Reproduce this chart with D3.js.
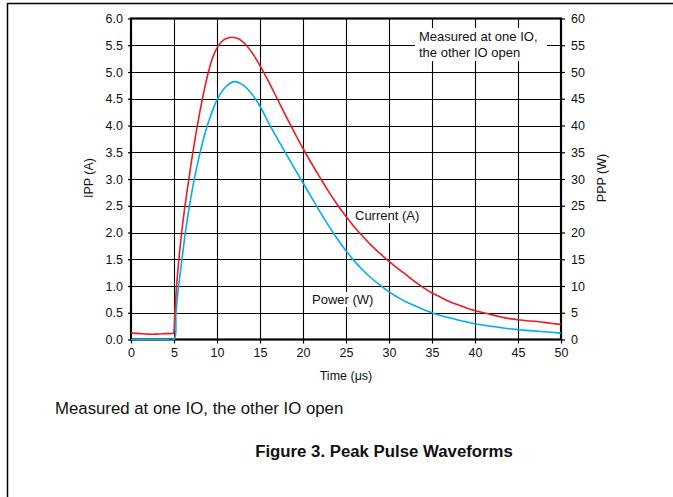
<!DOCTYPE html>
<html><head><meta charset="utf-8">
<script src="https://cdn.jsdelivr.net/npm/d3@7/dist/d3.min.js"></script>
<style>body{margin:0;background:#fff}svg{display:block}text{font-family:"Liberation Sans",Arial,sans-serif}</style>
</head><body><svg id="c" width="673" height="497"></svg>
<script>
// ---- data ----
const currentTime = [0,1,2,3,4,4.95,5.0,5.1,5.3,5.6,6.0,6.5,7.0,7.5,8.0,8.5,9.0,9.5,10.0,10.5,11.0,11.7,12.5,13.4,14.2,15,16,17,18,19,20,21,22,23,24,25,26,27,28,29,30,31,32,33,34,35,36,37,38,39,40,41,42,43,44,45,46,47,48,49,50];
const current =     [0.12,0.11,0.1,0.1,0.11,0.12,0.15,0.5,1.0,1.55,2.15,2.75,3.3,3.8,4.25,4.65,5.0,5.27,5.45,5.56,5.62,5.65,5.62,5.5,5.33,5.12,4.82,4.5,4.18,3.87,3.57,3.29,3.02,2.76,2.52,2.3,2.1,1.92,1.75,1.6,1.46,1.33,1.21,1.08,0.97,0.87,0.79,0.71,0.65,0.59,0.54,0.5,0.46,0.42,0.39,0.37,0.35,0.34,0.32,0.3,0.28];
const powerTime = [0,2,4,5.0,5.23,5.54,5.93,6.32,6.8,7.3,7.9,8.6,9.3,10.0,11.0,12.0,13.0,14,15,16,17,18,19,20,21,22,23,24,25,26,27,28,29,30,31,32,33,34,35,36,37,38,39,40,42,44,46,48,50];
const power =     [0,0,0,0,5,10,15,20,25,29.5,34,38.5,42,44.8,47.2,48.2,47.6,46.0,43.6,40.5,37.6,34.8,32.0,29.3,26.5,23.8,21.2,18.8,16.6,14.6,12.9,11.4,10.1,8.9,7.9,7.0,6.3,5.6,5.0,4.5,4.05,3.65,3.3,2.95,2.45,2.0,1.7,1.45,1.2];
const xTicks = [0,5,10,15,20,25,30,35,40,45,50];
const yLeftTicks = [0,0.5,1,1.5,2,2.5,3,3.5,4,4.5,5,5.5,6];
const yRightTicks = [0,5,10,15,20,25,30,35,40,45,50,55,60];
const seriesLabels = ["Current (A)","Power (W)"];
const note = ["Measured at one IO,","the other IO open"];

const svg = d3.select("#c");
const L=131,R=561,T=18.5,B=339.5;
const x = d3.scaleLinear().domain([0,50]).range([L,R]);
const yL = d3.scaleLinear().domain([0,6]).range([B,T]);
const yR = d3.scaleLinear().domain([0,60]).range([B,T]);

// page frame
svg.append("line").attr("x1",7.5).attr("x2",673).attr("y1",3.5).attr("y2",3.5).attr("stroke","#000").attr("stroke-width",1.5);
svg.append("line").attr("x1",7.5).attr("x2",7.5).attr("y1",3).attr("y2",497).attr("stroke","#000").attr("stroke-width",1.5);

// grid
const g = svg.append("g");
g.selectAll(".vg").data(xTicks.slice(1,-1)).join("line")
  .attr("x1",d=>Math.round(x(d))+0.5).attr("x2",d=>Math.round(x(d))+0.5).attr("y1",T).attr("y2",B)
  .attr("stroke","#000").attr("stroke-width",1.1);
g.selectAll(".hg").data(yLeftTicks.slice(1,-1)).join("line")
  .attr("y1",d=>Math.round(yL(d))+0.5).attr("y2",d=>Math.round(yL(d))+0.5).attr("x1",L).attr("x2",R)
  .attr("stroke","#000").attr("stroke-width",1.1);

// axes
const fs = "12.5px";
const ax = svg.append("g").attr("transform",`translate(0,${B})`)
  .call(d3.axisBottom(x).tickValues(xTicks).tickSize(4).tickPadding(5).tickFormat(d3.format("d")));
const al = svg.append("g").attr("transform",`translate(${L},0)`)
  .call(d3.axisLeft(yL).tickValues(yLeftTicks).tickSize(3).tickPadding(5).tickFormat(d3.format(".1f")));
const ar = svg.append("g").attr("transform",`translate(${R},0)`)
  .call(d3.axisRight(yR).tickValues(yRightTicks).tickSize(4).tickPadding(6).tickFormat(d3.format("d")));
[ax,al,ar].forEach(a=>{
  a.select(".domain").remove();
  a.selectAll("line").attr("stroke","#000").attr("stroke-width",1.2);
  a.selectAll("text").attr("fill","#111").style("font-size",fs).style("font-family","'Liberation Sans',Arial,sans-serif");
});

// plot border
svg.append("rect").attr("x",L).attr("y",T).attr("width",R-L).attr("height",B-T)
  .attr("fill","none").attr("stroke","#000").attr("stroke-width",2.2);

// note box
const nb = svg.append("g");
nb.append("rect").attr("x",415).attr("y",28).attr("width",132).attr("height",33).attr("fill","#fff");
nb.selectAll("text").data(note).join("text")
  .attr("x",419).attr("y",(d,i)=>41+i*15.5).text(d=>d)
  .attr("fill","#111").style("font-size","13px");

// series labels with white backgrounds
const labPos = [{x:355,y:220},{x:312,y:304}];
seriesLabels.forEach((s,i)=>{
  const lg = svg.append("g");
  const bg = lg.append("rect").attr("fill","#fff");
  const t = lg.append("text").attr("x",labPos[i].x).attr("y",labPos[i].y).text(s)
    .attr("fill","#111").style("font-size","13px");
  const bb = t.node().getBBox();
  bg.attr("x",bb.x-2).attr("y",bb.y).attr("width",bb.width+4).attr("height",bb.height);
});

// curves
const curData = currentTime.map((t,i)=>[t,current[i]]);
const powData = powerTime.map((t,i)=>[t,power[i]]);
const crv = d3.curveCatmullRom.alpha(0.5);
svg.append("path").datum(powData)
  .attr("d",d3.line().x(d=>x(d[0])).y(d=>yR(d[1])).curve(crv))
  .attr("fill","none").attr("stroke","#00aeef").attr("stroke-width",1.6);
svg.append("path").datum(curData)
  .attr("d",d3.line().x(d=>x(d[0])).y(d=>yL(d[1])).curve(crv))
  .attr("fill","none").attr("stroke","#ed1c24").attr("stroke-width",1.6);

// axis titles
svg.append("text").attr("transform","translate(93,178) rotate(-90)").attr("text-anchor","middle")
  .text("IPP (A)").attr("fill","#111").style("font-size","12.5px");
svg.append("text").attr("transform","translate(606,178) rotate(-90)").attr("text-anchor","middle")
  .text("PPP (W)").attr("fill","#111").style("font-size","12.5px");
svg.append("text").attr("x",346).attr("y",380).attr("text-anchor","middle")
  .text("Time (μs)").attr("fill","#111").style("font-size","12.5px");

// bottom texts
svg.append("text").attr("x",55).attr("y",414).text("Measured at one IO, the other IO open")
  .attr("fill","#111").style("font-size","16.8px");
svg.append("text").attr("x",384).attr("y",457).attr("text-anchor","middle").text("Figure 3. Peak Pulse Waveforms")
  .attr("fill","#111").style("font-size","16.8px").style("font-weight","bold");
</script></body></html>
